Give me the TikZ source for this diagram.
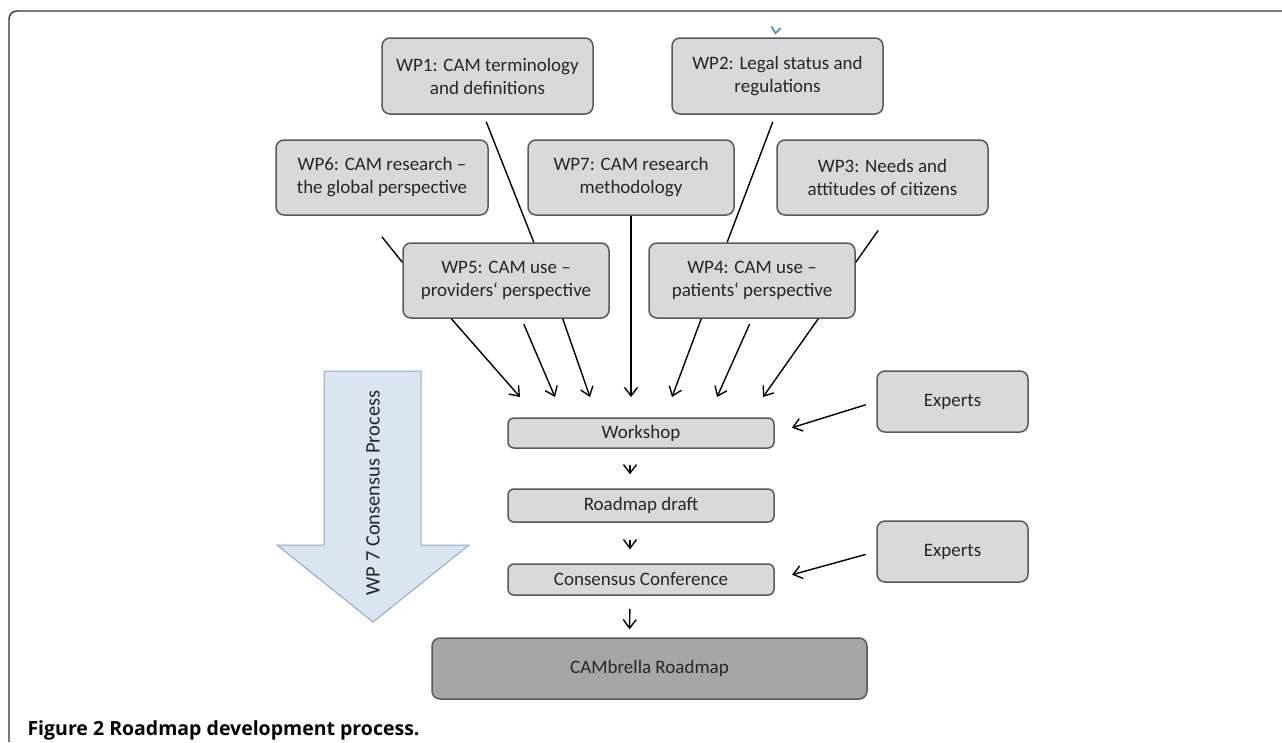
\documentclass[tikz,border=0pt]{standalone}
\usepackage{fontspec}
\setmainfont{Carlito}
\newfontfamily\capfont{Open Sans}
\usetikzlibrary{arrows.meta}

\definecolor{boxfill}{HTML}{D9D9D9}
\definecolor{boxline}{HTML}{595959}
\definecolor{mapfill}{HTML}{A6A6A6}
\definecolor{procfill}{HTML}{DBE5F1}
\definecolor{procline}{HTML}{8EA9CF}
\definecolor{txtgray}{HTML}{262626}
\definecolor{tinyblue}{HTML}{4F81BD}

\tikzset{
	wpbox/.style={draw=boxline, fill=boxfill, line width=1.5pt, rounded corners=8pt, align=center, text=txtgray, inner sep=0pt, font=\fontsize{19}{23}\selectfont},
	stepbox/.style={wpbox, rounded corners=6pt, minimum width=266pt},
	link/.style={line width=1.4pt},
	>={Straight Barb[length=8.5pt,width=13pt]}
}

\begin{document}
\begin{tikzpicture}[x=1pt, y=-1pt]
			\useasboundingbox (0,0) rectangle (1282,742);
			%frame
			\draw[line width=1.4pt, color=black!80, rounded corners=8pt] (9,742) -- (9,11) -- (1282,11);
			%consensus arrow
			\draw[fill=procfill, draw=procline, line width=1pt] (324,371) -- (421,371) -- (421,545) -- (469,545) -- (373,622) -- (277,545) -- (324,545) -- cycle;
			\node[rotate=90, text=txtgray, font=\fontsize{20.5}{24}\selectfont] (wplabel) at (373,493) {WP 7 Consensus Process};
			%work packages
			\node[wpbox, minimum width=211pt, minimum height=76pt] (wp1) at (487.5,76) {WP1: CAM terminology\\and definitions};
			\node[wpbox, minimum width=211pt, minimum height=76pt] (wp2) at (777.5,76) {WP2: Legal status and\\regulations};
			\node[wpbox, minimum width=212pt, minimum height=75pt] (wp6) at (382,177.5) {WP6: CAM research –\\the global perspective};
			\node[wpbox, minimum width=206pt, minimum height=75pt] (wp7) at (631,177.5) {WP7: CAM research\\methodology};
			\node[wpbox, minimum width=211pt, minimum height=75pt] (wp3) at (882.5,177.5) {WP3: Needs and\\attitudes of citizens};
			\node[wpbox, minimum width=206pt, minimum height=75pt] (wp5) at (506,280.5) {WP5: CAM use –\\providers‘ perspective};
			\node[wpbox, minimum width=206pt, minimum height=75pt] (wp4) at (752,280.5) {WP4: CAM use –\\patients‘ perspective};
			%process steps
			\node[stepbox, minimum height=30pt] (workshop) at (641,433) {Workshop};
			\node[stepbox, minimum height=33pt] (draft) at (641,505.5) {Roadmap draft};
			\node[stepbox, minimum height=31pt] (conf) at (641,579.5) {Consensus Conference};
			\node[wpbox, fill=mapfill, minimum width=435pt, minimum height=61pt] (roadmap) at (649.5,668.5) {CAMbrella Roadmap};
			\node[wpbox, minimum width=151pt, minimum height=61pt] (experts1) at (952.5,401.5) {Experts};
			\node[wpbox, minimum width=151pt, minimum height=61pt] (experts2) at (952.5,551.5) {Experts};
			%arrow ends above the workshop
			\coordinate (in1) at (520,397);
			\coordinate (in2) at (555,397);
			\coordinate (in3) at (590,397);
			\coordinate (in4) at (631,397);
			\coordinate (in5) at (672,397);
			\coordinate (in6) at (717,397);
			\coordinate (in7) at (763,397);
			%lines between work packages
			\draw[link, shorten <=7.5pt] (wp1.264) -- (wp5.54);
			\draw[link, shorten <=27pt] (wp6.246) -- (wp5.170);
			\draw[link, shorten <=7.5pt] (wp2.267) -- (wp4.123);
			\draw[link, shorten <=18pt] (wp3.279) -- (wp4.10);
			%arrows into the workshop
			\draw[link, ->] (wp5.215) -- (in1);
			\draw[link, ->, shorten <=6pt] (wp5.292) -- (in2);
			\draw[link, ->] (wp5.326) -- (in3);
			\draw[link, ->] (wp7.south) -- (in4);
			\draw[link, ->] (wp4.217) -- (in5);
			\draw[link, ->, shorten <=6pt] (wp4.270) -- (in6);
			\draw[link, ->] (wp4.330) -- (in7);
			%experts
			\draw[link, ->, shorten <=11pt, shorten >=18pt] (experts1.west) -- (workshop.east);
			\draw[link, ->, shorten <=11pt, shorten >=18pt] (experts2.west) -- (conf.east);
			%steps
			\draw[link, ->, shorten <=16pt, shorten >=14pt] ([xshift=-11pt]workshop.south) -- ([xshift=-11pt]draft.north);
			\draw[link, ->, shorten <=17pt, shorten >=14pt] ([xshift=-11pt]draft.south) -- ([xshift=-11pt]conf.north);
			\draw[link, ->, shorten <=13pt, shorten >=8pt] ([xshift=-11pt]conf.south) -- ([xshift=-20pt]roadmap.north);
			%small blue tip above WP2
			\draw[tinyblue, line width=1.6pt] ([shift={(-6pt,11pt)}]wp2.north) -- ([shift={(-2pt,4pt)}]wp2.north) -- ([shift={(3pt,9pt)}]wp2.north);
			%caption
			\node[anchor=base west, font=\capfont\bfseries\fontsize{19.5}{23}\selectfont] (caption) at (24,735) {Figure 2 Roadmap development process.};
		\end{tikzpicture}
\end{document}
